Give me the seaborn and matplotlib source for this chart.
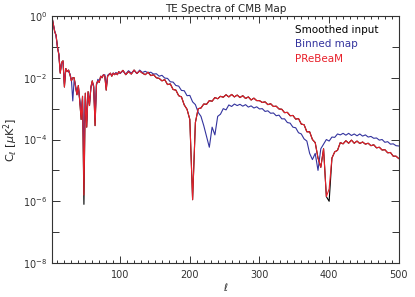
import numpy as np
import matplotlib
matplotlib.use("Agg")
import matplotlib.pyplot as plt
import seaborn as sns
from matplotlib.ticker import FixedLocator, MultipleLocator, NullFormatter

# multipoles: every 2 up to 98, every 4 from 100 to 500
ell = np.r_[np.arange(2, 100, 2), np.arange(100, 501, 4)]

# log10 of C_ell [uK^2]
log_cl_prebeam = [
    -0.02, -0.25, -0.5, -0.62, -1.0, -1.25, -1.85, -1.5, -1.45, -2.3,
    -1.7, -1.8, -1.75, -1.9, -2.1, -2.0, -2.0, -2.3, -2.55, -2.25,
    -2.75, -3.35, -2.6, -5.8, -2.5, -3.6, -2.45, -2.9, -2.3, -2.1,
    -2.3, -3.55, -2.2, -2.1, -2.15, -1.95, -2.0, -1.9, -1.95, -2.4,
    -1.95, -1.9, -1.85, -1.95, -1.85, -1.9, -1.85, -1.9, -1.8,
    # 100 ->
    -1.85, -1.76, -1.9, -1.8, -1.88, -1.75, -1.86, -1.78, -1.85, -1.9,
    -1.82, -1.93, -1.9, -2.0, -2.02, -2.1, -2.06, -2.22, -2.2, -2.38,
    -2.4, -2.58, -2.62, -2.88, -3.02, -3.35, -5.95, -3.45, -3.0, -2.98,
    -2.85, -2.86, -2.74, -2.76, -2.64, -2.68, -2.6, -2.63, -2.55, -2.62,
    -2.54, -2.62, -2.56, -2.64, -2.58, -2.67, -2.62, -2.72, -2.66, -2.74,
    -2.74, -2.8, -2.78, -2.87, -2.84, -2.93, -2.92, -3.01, -3.02, -3.13,
    -3.12, -3.23, -3.22, -3.34, -3.32, -3.5, -3.52, -3.75, -3.75, -4.0,
    -4.1, -4.6, -4.9, -4.3, -5.85, -5.6, -4.6, -4.4, -4.35, -4.1,
    -4.14, -4.04, -4.12, -4.02, -4.12, -4.05, -4.13, -4.08, -4.15, -4.12,
    -4.2, -4.17, -4.27, -4.25, -4.34, -4.33, -4.43, -4.42, -4.54, -4.54,
    -4.62,
]

log_cl_binned = [
    -0.02, -0.27, -0.48, -0.65, -1.02, -1.22, -1.8, -1.52, -1.5, -2.2,
    -1.72, -1.78, -1.8, -1.88, -2.05, -2.75, -2.05, -2.25, -2.5, -2.3,
    -2.7, -3.1, -2.7, -4.3, -2.6, -3.4, -2.5, -2.8, -2.35, -2.15,
    -2.25, -3.3, -2.25, -2.05, -2.1, -2.0, -1.95, -1.92, -1.9, -2.3,
    -1.92, -1.88, -1.87, -1.92, -1.85, -1.88, -1.83, -1.88, -1.82,
    # 100 ->
    -1.86, -1.78, -1.88, -1.77, -1.85, -1.76, -1.86, -1.75, -1.83, -1.79,
    -1.84, -1.82, -1.88, -1.87, -1.95, -1.92, -2.01, -2.02, -2.13, -2.14,
    -2.25, -2.27, -2.41, -2.42, -2.58, -2.57, -2.78, -2.87, -3.12, -3.25,
    -3.55, -3.9, -4.25, -3.6, -3.85, -3.25, -3.18, -3.0, -3.04, -2.88,
    -2.93, -2.85, -2.9, -2.86, -2.92, -2.87, -2.95, -2.91, -2.98, -2.94,
    -3.01, -3.0, -3.09, -3.07, -3.15, -3.14, -3.23, -3.21, -3.33, -3.33,
    -3.45, -3.47, -3.6, -3.62, -3.78, -3.82, -3.98, -4.05, -4.45, -4.65,
    -4.45, -5.0, -4.3, -4.15, -4.0, -4.05, -3.92, -3.93, -3.82, -3.85,
    -3.8, -3.86, -3.8, -3.87, -3.82, -3.88, -3.82, -3.89, -3.85, -3.92,
    -3.9, -3.96, -3.95, -4.02, -4.0, -4.09, -4.07, -4.15, -4.14, -4.2,
    -4.21,
]

# smoothed input sits under the PReBeaM curve, only the dip tips show
log_cl_input = np.array(log_cl_prebeam)
log_cl_input[ell == 48] = -6.1
log_cl_input[ell == 400] = -6.0

sns.set_style("ticks")
plt.rcParams["font.family"] = ["DejaVu Sans"]

fig = plt.figure(figsize=(4.15, 2.97), dpi=100)
ax = fig.add_axes([0.125, 0.1145, 0.836, 0.8315])

sns.lineplot(x=ell, y=10.0 ** log_cl_input, ax=ax, color="black", lw=0.8, label="Smoothed input")
sns.lineplot(x=ell, y=10.0 ** np.array(log_cl_binned), ax=ax, color="#33339e", lw=0.8, label="Binned map")
sns.lineplot(x=ell, y=10.0 ** np.array(log_cl_prebeam), ax=ax, color="#e8202a", lw=0.8, label="PReBeaM")

ax.set_yscale("log")
ax.set_xlim(2, 500)
ax.set_ylim(1e-8, 1)

ax.yaxis.set_major_locator(FixedLocator([1e-8, 1e-6, 1e-4, 1e-2, 1]))
ax.yaxis.set_minor_locator(FixedLocator([1e-7, 1e-5, 1e-3, 1e-1]))
ax.yaxis.set_minor_formatter(NullFormatter())
ax.set_yticklabels(["10$^{-8}$", "10$^{-6}$", "10$^{-4}$", "10$^{-2}$", "10$^{0}$"])
ax.xaxis.set_major_locator(FixedLocator([100, 200, 300, 400, 500]))
ax.xaxis.set_minor_locator(MultipleLocator(10))

ax.tick_params(which="both", direction="in", top=True, right=True, labelsize=7, width=0.7, colors="#333333")
ax.tick_params(axis="y", which="major", length=6)
ax.tick_params(axis="y", which="minor", length=5)
ax.tick_params(axis="x", which="major", length=5, pad=5)
ax.tick_params(axis="x", which="minor", length=2.5)
for s in ax.spines.values():
    s.set_linewidth(0.8)
    s.set_color("#333333")

ax.set_xlabel(r"$\ell$", fontsize=7, labelpad=1)
ax.set_ylabel(r"C$_\ell$ [$\mu$K$^2$]", fontsize=8, labelpad=2)
ax.set_title("TE Spectra of CMB Map", fontsize=7.5, pad=3)

leg = ax.legend(loc="upper left", bbox_to_anchor=(0.70, 0.965), frameon=False,
                handlelength=0, handletextpad=0, borderpad=0, borderaxespad=0,
                labelspacing=0.45, fontsize=7.5, labelcolor="linecolor")
for h in leg.legend_handles:
    h.set_visible(False)

fig.savefig("out.png", dpi=100)
